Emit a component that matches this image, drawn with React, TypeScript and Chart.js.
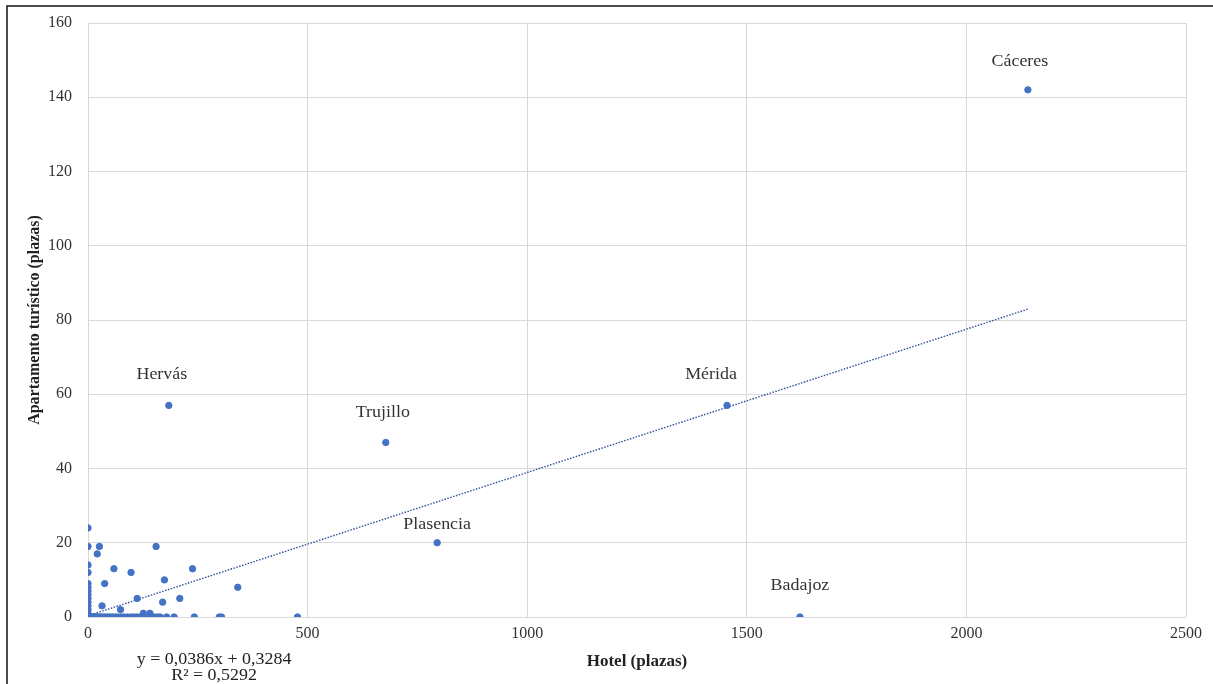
import React, { useEffect, useRef } from "react";
import { Chart, registerables } from "chart.js";
Chart.register(...registerables);

// Municipalities without label: hotel places (x) and tourist apartment places (y)
const hotelPlazas = [
  0, 0, 0, 0, 0, 0, 0, 0, 0, 0, 0, 0, 0, 0,
  26, 155, 21, 59, 98, 238, 38, 174, 341, 112, 209, 170, 32, 74, 126, 141,
  3, 6, 9, 12, 15, 18, 22, 26, 30, 35, 40, 45, 50, 56, 62, 68, 75, 82, 90, 98,
  105, 112, 120, 128, 136, 144, 150, 158, 164, 179, 196, 242, 299, 304, 477,
];
const apartamentoPlazas = [
  24, 19, 14, 12, 9, 8, 7, 6, 5, 4, 3, 2, 1, 0,
  19, 19, 17, 13, 12, 13, 9, 10, 8, 5, 5, 4, 3, 2, 1, 1,
  0, 0, 0, 0, 0, 0, 0, 0, 0, 0, 0, 0, 0, 0, 0, 0, 0, 0, 0, 0,
  0, 0, 0, 0, 0, 0, 0, 0, 0, 0, 0, 0, 0, 0, 0,
];

// Labelled municipalities
const cityNames = ["Cáceres", "Mérida", "Hervás", "Trujillo", "Plasencia", "Badajoz"];
const cityHotel = [2140, 1455, 184, 678, 795, 1621];
const cityApartamento = [142, 57, 57, 47, 20, 0];

// Linear trend line (as reported on the chart)
const trendSlope = 0.0386;
const trendIntercept = 0.3284;
const trendRange = [0, 2140];
const equationText = "y = 0,0386x + 0,3284";
const r2Text = "R² = 0,5292";

const xTicks = [0, 500, 1000, 1500, 2000, 2500];
const yTicks = [0, 20, 40, 60, 80, 100, 120, 140, 160];

// styling (label offsets in px relative to the point)
const labelOffsets = [
  [-8, -28],
  [-16, -31],
  [-7, -31],
  [-3, -30],
  [0, -18],
  [0, -31],
];

const SERIF = "'Liberation Serif', 'Times New Roman', serif";
const BLUE = "#4472C4";
const TEXT_STRETCH = 1.12;

export default function App() {
  const ref = useRef<HTMLCanvasElement | null>(null);

  useEffect(() => {
    if (!ref.current) return;
    const points = hotelPlazas.map((h, i) => ({ x: h, y: apartamentoPlazas[i] }));
    cityHotel.forEach((h, i) => points.push({ x: h, y: cityApartamento[i] }));
    const trend = trendRange.map((x) => ({ x, y: trendSlope * x + trendIntercept }));

    const drawStretched = (ctx: any, text: string, x: number, y: number) => {
      ctx.save();
      ctx.translate(x, y);
      ctx.scale(TEXT_STRETCH, 1);
      ctx.fillText(text, 0, 0);
      ctx.restore();
    };

    const overlay = {
      id: "overlay",
      afterDraw(chart: any) {
        const ctx = chart.ctx;
        const xs = chart.scales.x;
        const ys = chart.scales.y;
        const area = chart.chartArea;
        ctx.save();
        // city labels
        ctx.font = `16px ${SERIF}`;
        ctx.fillStyle = "#333333";
        ctx.textAlign = "center";
        ctx.textBaseline = "middle";
        cityNames.forEach((n, i) => {
          const px = xs.getPixelForValue(cityHotel[i]) + labelOffsets[i][0];
          const py = ys.getPixelForValue(cityApartamento[i]) + labelOffsets[i][1];
          drawStretched(ctx, n, px, py);
        });
        // equation
        const ex = xs.getPixelForValue(287);
        ctx.font = `16px ${SERIF}`;
        ctx.fillStyle = "#222222";
        drawStretched(ctx, equationText, ex, area.bottom + 43);
        drawStretched(ctx, r2Text, ex, area.bottom + 59);
        // frame
        ctx.strokeStyle = "#111111";
        ctx.lineWidth = 1.5;
        ctx.beginPath();
        ctx.moveTo(7, chart.height);
        ctx.lineTo(7, 6);
        ctx.lineTo(chart.width, 6);
        ctx.stroke();
        ctx.restore();
      },
    };

    const chart = new Chart(ref.current, {
      type: "scatter",
      data: {
        datasets: [
          {
            type: "scatter",
            label: "Municipios",
            data: points,
            backgroundColor: BLUE,
            borderColor: BLUE,
            pointRadius: 3.2,
            pointHoverRadius: 3.2,
          },
          {
            type: "line",
            label: "Tendencia",
            data: trend,
            borderColor: "#2F4F9A",
            borderWidth: 1.4,
            borderDash: [1.5, 1.5],
            pointRadius: 0,
            fill: false,
          } as any,
        ],
      },
      options: {
        responsive: false,
        animation: false,
        events: [],
        layout: { padding: { left: 8, top: 23, right: 27, bottom: 0 } },
        plugins: {
          legend: { display: false },
          tooltip: { enabled: false },
        },
        scales: {
          x: {
            type: "linear",
            min: 0,
            max: 2500,
            afterBuildTicks: (s: any) => {
              s.ticks = xTicks.map((v) => ({ value: v }));
            },
            afterFit: (s: any) => {
              s.height = 67;
            },
            grid: { color: "#d9d9d9", drawTicks: false, lineWidth: 1 },
            border: { display: false },
            ticks: {
              padding: 7,
              color: "#333333",
              font: { family: SERIF, size: 16 },
              callback: (v: any) => String(v),
            },
            title: {
              display: true,
              text: "Hotel (plazas)",
              color: "#222222",
              font: { family: SERIF, size: 17, weight: "bold" },
              padding: { top: 4, bottom: 12 },
            },
          },
          y: {
            type: "linear",
            min: 0,
            max: 160,
            afterBuildTicks: (s: any) => {
              s.ticks = yTicks.map((v) => ({ value: v }));
            },
            afterFit: (s: any) => {
              s.width = 80;
              s.paddingTop = 0;
              s.paddingBottom = 0;
            },
            grid: { color: "#d9d9d9", drawTicks: false, lineWidth: 1 },
            border: { display: false },
            ticks: {
              padding: 16,
              color: "#333333",
              font: { family: SERIF, size: 16 },
              callback: (v: any) => String(v),
            },
            title: {
              display: true,
              text: "Apartamento turístico (plazas)",
              color: "#222222",
              font: { family: SERIF, size: 16, weight: "bold" },
              padding: { top: 17, bottom: 4 },
            },
          },
        },
      },
      plugins: [overlay],
    } as any);
    return () => chart.destroy();
  }, []);

  return (
    <div style={{ position: "fixed", left: 0, top: 0, width: 1213, height: 684, background: "#fff" }}>
      <canvas ref={ref} width={1213} height={684} style={{ display: "block" }} />
    </div>
  );
}
